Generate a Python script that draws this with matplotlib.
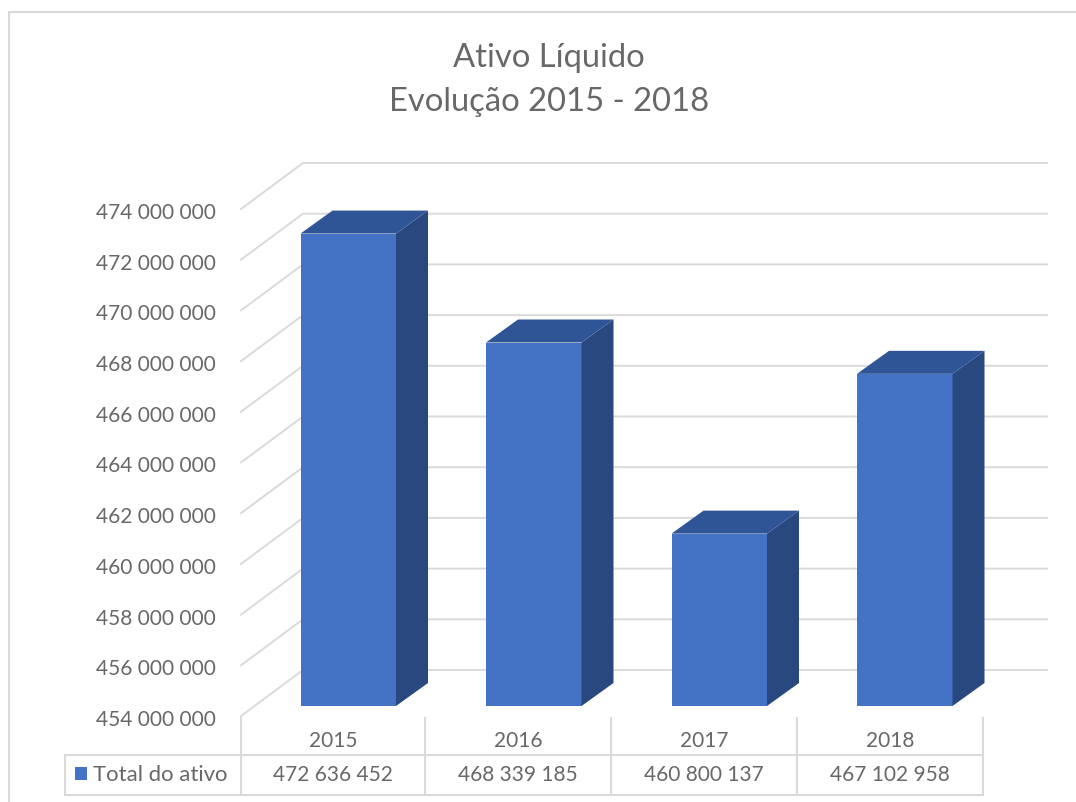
import matplotlib
matplotlib.use("Agg")
from matplotlib import pyplot as plt
from matplotlib.patches import Polygon
from matplotlib.transforms import Affine2D

years = ["2015", "2016", "2017", "2018"]
total_ativo = [472636452, 468339185, 460800137, 467102958]
total_labels = ["472 636 452", "468 339 185", "460 800 137", "467 102 958"]
y_ticks = list(range(454000000, 476000000, 2000000))

W, H = 1076, 802
GRID = "#dadada"
TEXT = "#686868"
FRONT = "#4472c4"
TOP = "#2f5597"
SIDE = "#2a4880"
FS = 15

# front plane of the chart, in pixels
LEFT, RIGHT, Y_TOP, Y_BOT = 241, 983, 209, 716
PX_CAT = (RIGHT - LEFT) / 4
PX_VAL = (Y_BOT - Y_TOP) / 20000000

plt.rcParams["font.family"] = ["Lato", "DejaVu Sans"]

fig = plt.figure(figsize=(W / 100, H / 100), dpi=100)
ax = fig.add_axes([LEFT / W, 1 - Y_BOT / H, (RIGHT - LEFT) / W, (Y_BOT - Y_TOP) / H])
ax.set_xlim(0, 4)
ax.set_ylim(454000000, 474000000)
ax.patch.set_alpha(0)
for s in ax.spines.values():
    s.set_visible(False)
ax.set_xticks([])
ax.set_yticks(y_ticks)
ax.set_yticklabels([f"{v:,}".replace(",", " ") for v in y_ticks], fontsize=FS, color=TEXT)
ax.tick_params(axis="y", length=0, pad=18)
for lab in ax.get_yticklabels():
    lab.set_transform(lab.get_transform() + Affine2D().translate(0, -2))


def sheared(x, v, dx_px, dy_px):
    # move a data point back in depth by a pixel offset
    return x + dx_px / PX_CAT, v + dy_px / PX_VAL


# gridlines: side wall then back wall
for v in y_ticks:
    p0 = (0, v)
    p1 = sheared(0, v, 62, 46)
    p2 = sheared(4, v, 64, 46)
    ax.plot([p0[0], p1[0], p2[0]], [p0[1], p1[1], p2[1]], color=GRID, lw=1.4,
            clip_on=False, zorder=1, solid_joinstyle="miter")

BAR_W = 95.5 / PX_CAT
for i, val in enumerate(total_ativo):
    x0 = i + 0.5 + 14.5 / PX_CAT - BAR_W / 2
    x1 = x0 + BAR_W
    base = 454000000
    a = sheared(x0, base, 0, 10)
    b = sheared(x1, base, 0, 10)
    c = sheared(x1, val, 0, 10)
    d = sheared(x0, val, 0, 10)
    bb = sheared(x1, base, 32, 33)
    cb = sheared(x1, val, 32, 33)
    db = sheared(x0, val, 32, 33)
    ax.add_patch(Polygon([a, b, c, d], facecolor=FRONT, edgecolor="none", zorder=3, clip_on=False))
    ax.add_patch(Polygon([b, bb, cb, c], facecolor=SIDE, edgecolor="none", zorder=3, clip_on=False))
    ax.add_patch(Polygon([d, c, cb, db], facecolor=TOP, edgecolor="none", zorder=3, clip_on=False))

# overlay in pixel coordinates for frame, title and data table
ov = fig.add_axes([0, 0, 1, 1], zorder=-1)
ov.set_xlim(0, W)
ov.set_ylim(H, 0)
ov.axis("off")
ov.plot([9, 9, W], [802, 12, 12], color=GRID, lw=1.5)

ov.text(549, 58, "Ativo Líquido", ha="center", va="center", fontsize=23.6, color=TEXT)
ov.text(549, 102, "Evolução 2015 - 2018", ha="center", va="center", fontsize=23.6, color=TEXT)

edges = [241, 425, 611, 797, 983]
for xe in edges:
    ov.plot([xe, xe], [718, 795], color=GRID, lw=1.5)
ov.plot([65, 65], [755, 795], color=GRID, lw=1.5)
ov.plot([65, RIGHT], [755, 755], color=GRID, lw=1.5)
ov.plot([65, RIGHT], [795, 795], color=GRID, lw=1.5)

for i, yr in enumerate(years):
    xc = (edges[i] + edges[i + 1]) / 2
    ov.text(xc, 741, yr, ha="center", va="center", fontsize=FS, color=TEXT)
    ov.text(xc, 775, total_labels[i], ha="center", va="center", fontsize=FS, color=TEXT)

ov.add_patch(Polygon([(75, 767), (87, 767), (87, 780), (75, 780)], facecolor=FRONT, edgecolor="none"))
ov.text(93, 775, "Total do ativo", ha="left", va="center", fontsize=15.9, color=TEXT)

fig.savefig("out.png", dpi=100)
